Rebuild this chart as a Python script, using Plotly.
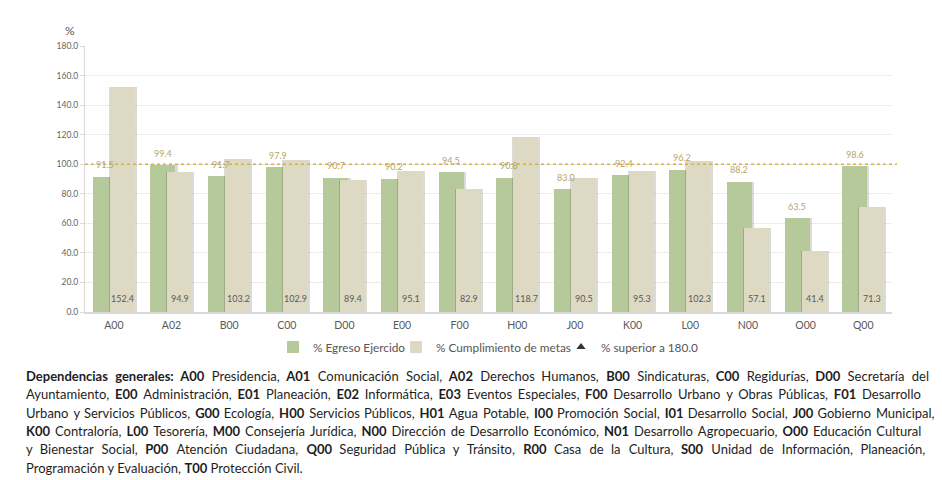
import plotly.graph_objects as go

categories = ["A00", "A02", "B00", "C00", "D00", "E00", "F00", "H00", "J00", "K00", "L00", "N00", "O00", "Q00"]
egreso = [91.5, 99.4, 91.7, 97.9, 90.7, 90.2, 94.5, 90.8, 83.0, 92.4, 96.2, 88.2, 63.5, 98.6]
cumplimiento = [152.4, 94.9, 103.2, 102.9, 89.4, 95.1, 82.9, 118.7, 90.5, 95.3, 102.3, 57.1, 41.4, 71.3]
y_ticks = [0, 20, 40, 60, 80, 100, 120, 140, 160, 180]
target = 100.0

names = ["% Egreso Ejercido", "% Cumplimiento de metas", "% superior a 180.0"]

para_lines = [
    "<b>Dependencias generales:</b> <b>A00</b> Presidencia, <b>A01</b> Comunicación Social, <b>A02</b> Derechos Humanos, <b>B00</b> Sindicaturas, <b>C00</b> Regidurías, <b>D00</b> Secretaría del",
    "Ayuntamiento, <b>E00</b> Administración, <b>E01</b> Planeación, <b>E02</b> Informática, <b>E03</b> Eventos Especiales, <b>F00</b> Desarrollo Urbano y Obras Públicas, <b>F01</b> Desarrollo",
    "Urbano y Servicios Públicos, <b>G00</b> Ecología, <b>H00</b> Servicios Públicos, <b>H01</b> Agua Potable, <b>I00</b> Promoción Social, <b>I01</b> Desarrollo Social, <b>J00</b> Gobierno Municipal,",
    "<b>K00</b> Contraloría, <b>L00</b> Tesorería, <b>M00</b> Consejería Jurídica, <b>N00</b> Dirección de Desarrollo Económico, <b>N01</b> Desarrollo Agropecuario, <b>O00</b> Educación Cultural",
    "y Bienestar Social, <b>P00</b> Atención Ciudadana, <b>Q00</b> Seguridad Pública y Tránsito, <b>R00</b> Casa de la Cultura, <b>S00</b> Unidad de Información, Planeación,",
    "Programación y Evaluación, <b>T00</b> Protección Civil.",
]
# extra word spacing (average hair spaces per gap) to mimic the justified layout
para_extra = [4.6, 3, 1.65, 2, 5.45, 0]
line_y = [376, 394.3, 412.6, 430.9, 449.2, 467.5]

FONT = "Lato, 'Open Sans', sans-serif"
GREEN = "#b5c99a"
CREAM = "#ddd9c3"
OFF = 8  # page offset of the figure inside the browser window
W = 942 - OFF
H = 480 - OFF
L, T = 85 - OFF, 46 - OFF
PW = 892 - 85
PH = 312 - 46
R = W - L - PW
B = H - T - PH
cat_px = PW / len(categories)
bw = 25 / cat_px


def px(xs):
    """window x -> paper x"""
    return (xs - OFF - L) / PW


def py(ys):
    """window y -> paper y"""
    return (T + PH - (ys - OFF)) / PH


def spread(txt, k):
    """widen word gaps by k hair spaces on average"""
    parts = txt.split(" ")
    out = parts[0]
    for i, p in enumerate(parts[1:], start=1):
        n = round(k * i) - round(k * (i - 1))
        out += " " + "\u200a" * n + p
    return out


fig = go.Figure()

g_off = -21 / cat_px
c_off = -4 / cat_px
sh = 2.5 / cat_px
fig.add_trace(go.Bar(x=categories, y=egreso, offset=g_off + sh * 0.3, width=bw + sh * 0.6,
                     marker=dict(color="rgba(0,0,0,0.14)", line=dict(width=0)), showlegend=False, hoverinfo="skip"))
fig.add_trace(go.Bar(x=categories, y=egreso, offset=g_off, width=bw, name=names[0], legend="legend",
                     marker=dict(color=GREEN, line=dict(width=0))))
fig.add_trace(go.Bar(x=categories, y=cumplimiento, offset=c_off - sh * 0.4, width=bw + sh * 1.2,
                     marker=dict(color="rgba(0,0,0,0.14)", line=dict(width=0)), showlegend=False, hoverinfo="skip"))
fig.add_trace(go.Bar(x=categories, y=cumplimiento, offset=c_off, width=bw, name=names[1], legend="legend2",
                     marker=dict(color=CREAM, line=dict(width=0))))
fig.add_trace(go.Scatter(x=[None], y=[None], mode="markers", name=names[2], legend="legend3",
                         marker=dict(symbol="triangle-up", size=8, color="#333333")))

annotations = []
for c, v in zip(categories, egreso):
    annotations.append(dict(x=c, y=v, xref="x", yref="y", text=f"{v:.1f}", showarrow=False,
                            xshift=-8.5, yshift=12, font=dict(family=FONT, size=9, color="#b8a468")))
for c, v in zip(categories, cumplimiento):
    annotations.append(dict(x=c, y=0, xref="x", yref="y", text=f"{v:.1f}", showarrow=False,
                            xshift=9, yshift=14, font=dict(family=FONT, size=9, color="#5a5a5a")))

annotations.append(dict(x=px(70), y=py(31), xref="paper", yref="paper", text="%", showarrow=False,
                        xanchor="center", yanchor="middle",
                        font=dict(family=FONT, size=12, color="#555555")))

for yy, txt, k in zip(line_y, para_lines, para_extra):
    annotations.append(dict(x=px(24), y=py(yy), xref="paper", yref="paper",
                            text=spread(txt, k),
                            showarrow=False, xanchor="left", yanchor="middle", align="left",
                            font=dict(family=FONT, size=13, color="#1e1e1e")))

shapes = [
    dict(type="line", xref="paper", yref="y", x0=0, x1=px(897), y0=target, y1=target,
         line=dict(color="#d8b233", width=1.6, dash="dot"), layer="above"),
]

leg_common = dict(orientation="h", xanchor="left", yanchor="middle", y=py(347),
                  font=dict(family=FONT, size=11.8, color="#555555"), itemwidth=30,
                  bgcolor="rgba(0,0,0,0)", borderwidth=0)

fig.update_layout(
    width=W, height=H,
    margin=dict(l=L, r=R, t=T, b=B, autoexpand=False),
    paper_bgcolor="white", plot_bgcolor="white",
    barmode="overlay", bargap=0,
    font=dict(family=FONT, color="#555555"),
    xaxis=dict(type="category", categoryorder="array", categoryarray=categories,
               tickfont=dict(family=FONT, size=10.5, color="#595959"), showgrid=False,
               showline=True, linecolor="#d9d9d9", linewidth=1.5, ticks="", fixedrange=True,
               range=[-0.5, len(categories) - 0.5], ticklabelstandoff=3),
    yaxis=dict(range=[0, 180], tickvals=y_ticks, tickformat=".1f",
               tickfont=dict(family=FONT, size=8.5, color="#666666"),
               showgrid=True, gridcolor="#ececec", gridwidth=1,
               showline=True, linecolor="#d9d9d9", linewidth=1,
               ticks="outside", ticklen=4, tickcolor="#d9d9d9", zeroline=False),
    legend=dict(x=px(313 - 40), **leg_common),
    legend2=dict(x=px(436 - 40), **leg_common),
    legend3=dict(x=px(601 - 40), **leg_common),
    annotations=annotations, shapes=shapes,
)

fig.write_html("out.html")
